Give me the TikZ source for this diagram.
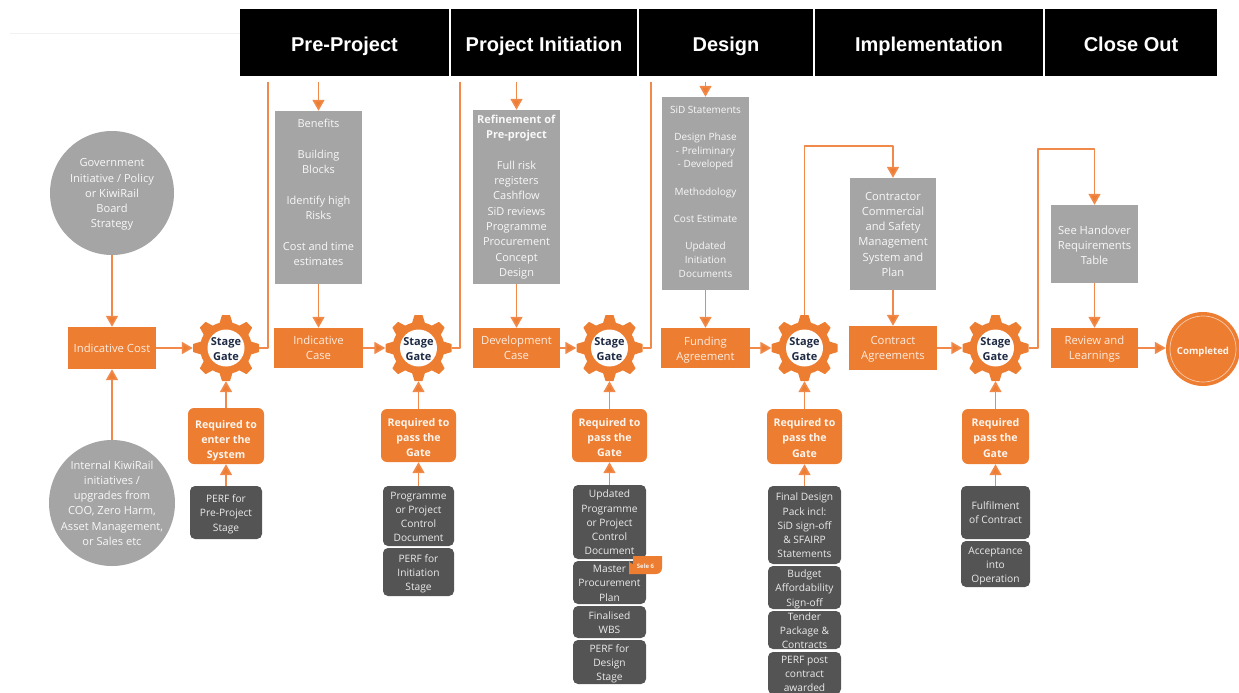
\documentclass[tikz,border=0pt]{standalone}
\usepackage{fontspec}
\setmainfont{Open Sans}
\newfontfamily\hdfont{Liberation Sans}
\usetikzlibrary{arrows.meta,shapes.geometric,calc}
\definecolor{kro}{HTML}{ED7D31}
\definecolor{krl}{HTML}{F0894A}
\definecolor{krg}{HTML}{A5A5A5}
\definecolor{krd}{HTML}{545454}
\definecolor{krn}{HTML}{1F2A44}
% optional argument: how far the text block sits above the node centre
\newcommand\lns[2][0]{\raisebox{\dimexpr#1pt-4pt\relax}[0pt][0pt]{\begin{tabular}{@{}c@{}}#2\end{tabular}}}
% style, name, x1, y1, x2, y2, text
\newcommand\bx[7]{%
  \pgfmathsetmacro\cxx{(#3+#5)/2}\pgfmathsetmacro\cyy{(#4+#6)/2}%
  \pgfmathsetmacro\ww{#5-#3}\pgfmathsetmacro\hh{#6-#4}%
  \node[#1,minimum width=\ww pt,minimum height=\hh pt] (#2) at (\cxx,\cyy) {#7};}
\newcommand\gear[3]{%
  \foreach \a in {0,45,...,315}
    \fill[kro,draw=kro,line width=1.4pt,line join=round,rotate around={\a:(#2,#3)}]
      (#2-6,#3-24)--(#2-3.5,#3-32.3)--(#2+3.5,#3-32.3)--(#2+6,#3-24)--cycle;
  \fill[kro] (#2,#3) circle[radius=26];
  \fill[white] (#2,#3) circle[radius=18.5];
  \node[gatenode] (#1) at (#2,#3) {\lns[-0.5]{Stage\\Gate}};}
\tikzset{
  hdr/.style={fill=black,text=white,inner sep=0pt,font=\hdfont\bfseries\fontsize{20}{22}\selectfont},
  greybox/.style={fill=krg,text=white!92!krg,inner sep=0pt,font=\fontsize{11}{15.3}\selectfont},
  orbox/.style={fill=kro,text=white!85!kro,inner sep=0pt,font=\fontsize{11.3}{15.3}\selectfont},
  reqbox/.style={fill=kro,text=white!92!kro,rounded corners=6pt,inner sep=0pt,font=\bfseries\fontsize{10.6}{15.3}\selectfont},
  darkbox/.style={fill=krd,text=white!88!krd,rounded corners=5pt,inner sep=0pt,font=\fontsize{10.2}{14.2}\selectfont},
  greycirc/.style={circle,fill=krg,text=white!92!krg,inner sep=0pt,font=\fontsize{11.1}{15.3}\selectfont},
  gatenode/.style={circle,minimum size=66pt,inner sep=0pt,text=krn,font=\bfseries\fontsize{11}{15}\selectfont},
  flow/.style={draw=krl,line width=1.7pt,line join=round,-{Triangle[length=11pt,width=12pt,fill=kro]}},
  plain/.style={draw=krl,line width=1.7pt,line join=round},
}
\begin{document}
\begin{tikzpicture}[x=1pt,y=-1pt]
\useasboundingbox (0,0) rectangle (1239,693);
\draw[black!5,line width=0.8pt] (10,33) -- (240,33);
% headers
\bx{hdr}{h1}{240}{9}{449}{76}{\lns[-5.5]{Pre-Project}}
\bx{hdr}{h2}{451}{9}{637}{76}{\lns[-5.5]{Project Initiation}}
\bx{hdr}{h3}{639}{9}{813}{76}{\lns[-5.5]{Design}}
\bx{hdr}{h4}{815}{9}{1043}{76}{\lns[-5.5]{Implementation}}
\bx{hdr}{h5}{1045}{9}{1217}{76}{\lns[-5.5]{Close Out}}
% free ends
\coordinate (u1) at (268,82);
\coordinate (u2) at (460,82);
\coordinate (u3) at (651,82);
\coordinate (d1) at (318.5,82);
\coordinate (d2) at (516.5,82);
\coordinate (d3) at (705.5,82);
\coordinate (t4) at (804.5,146);
\coordinate (t5) at (1038,149);
% source circles
\node[greycirc,minimum size=124pt] (gov) at (112,193) {\lns{Government\\Initiative / Policy\\or KiwiRail\\Board\\Strategy}};
\node[greycirc,minimum size=126pt] (int) at (112,503) {\lns{Internal KiwiRail\\initiatives /\\upgrades from\\COO, Zero Harm,\\Asset Management,\\or Sales etc}};
% grey boxes
\bx{greybox}{benefits}{275}{111}{362}{284}{\lns[5]{Benefits\\[15.3pt]Building\\Blocks\\[15.3pt]Identify high\\Risks\\[15.3pt]Cost and time\\estimates}}
\bx{greybox}{refine}{473}{110}{560}{284}{\lns[1.5]{\textbf{Refinement of}\\\textbf{Pre-project}\\[15.3pt]Full risk\\registers\\Cashflow\\SiD reviews\\Programme\\Procurement\\Concept\\Design}}
\bx{greybox,font=\fontsize{10}{13.8}\selectfont}{sid}{662}{97}{749}{290}{\lns[2.5]{SiD Statements\\[13.5pt]Design Phase\\- Preliminary\\- Developed\\[13.5pt]Methodology\\[13.5pt]Cost Estimate\\[13.5pt]Updated\\Initiation\\Documents}}
\bx{greybox,font=\fontsize{11.2}{15.3}\selectfont}{contractor}{850}{178}{936}{290}{\lns{Contractor\\Commercial\\and Safety\\Management\\System and\\Plan}}
\bx{greybox,font=\fontsize{11.2}{15.3}\selectfont}{handover}{1051}{205}{1138}{283}{\lns[-1]{See Handover\\Requirements\\Table}}
% orange boxes
\bx{orbox}{cost}{68}{327}{156}{369}{\lns{Indicative Cost}}
\bx{orbox}{case}{274}{328}{363}{368}{\lns{Indicative\\Case}}
\bx{orbox}{dev}{473}{328}{560}{368}{\lns{Development\\Case}}
\bx{orbox}{fund}{661}{328}{750}{368}{\lns[-1]{Funding\\Agreement}}
\bx{orbox}{contract}{849}{326}{937}{370}{\lns{Contract\\Agreements}}
\bx{orbox}{review}{1051}{328}{1138}{368}{\lns{Review and\\Learnings}}
% completed
\node[circle,fill=kro,minimum size=74pt,inner sep=0pt,text=white!92!kro,font=\bfseries\fontsize{9.6}{12}\selectfont] (done) at (1203,349) {\lns[-1.5]{Completed}};
\draw[white!60!kro,line width=0.7pt] (done.center) circle[radius=33];
% gates
\gear{g1}{226}{348}
\gear{g2}{418.5}{348}
\gear{g3}{609.5}{348}
\gear{g4}{804.5}{348}
\gear{g5}{995.5}{348}
% required
\bx{reqbox}{r1}{188}{408}{264}{464}{\lns[-3]{Required to\\enter the\\System}}
\bx{reqbox}{r2}{381}{409}{456}{462}{\lns[-1.5]{Required to\\pass the\\Gate}}
\bx{reqbox}{r3}{572}{409}{647}{462}{\lns[-1.5]{Required to\\pass the\\Gate}}
\bx{reqbox}{r4}{767}{409}{842}{464}{\lns[-1]{Required to\\pass the\\Gate}}
\bx{reqbox}{r5}{962}{409}{1029}{464}{\lns[-1]{Required\\pass the\\Gate}}
% dark boxes
\bx{darkbox}{p1}{190}{486}{262}{539}{\lns{PERF for\\Pre-Project\\Stage}}
\bx{darkbox}{p2a}{383}{486}{454}{546}{\lns{Programme\\or Project\\Control\\Document}}
\bx{darkbox}{p2b}{383}{548}{454}{596}{\lns{PERF for\\Initiation\\Stage}}
\bx{darkbox}{p3a}{573}{485}{646}{559}{\lns{Updated\\Programme\\or Project\\Control\\Document}}
\bx{darkbox}{p3b}{573}{561}{646}{604}{\lns{Master\\Procurement\\Plan}}
\bx{darkbox}{p3c}{573}{606}{646}{638}{\lns{Finalised\\WBS}}
\bx{darkbox}{p3d}{573}{640}{646}{684}{\lns{PERF for\\Design\\Stage}}
\bx{darkbox}{p4a}{768}{486}{841}{564}{\lns{Final Design\\Pack incl:\\SiD sign-off\\\& SFAIRP\\Statements}}
\bx{darkbox}{p4b}{768}{566}{841}{609}{\lns{Budget\\Affordability\\Sign-off}}
\bx{darkbox}{p4c}{768}{611}{841}{649}{\lns{Tender\\Package \&\\Contracts}}
\bx{darkbox}{p4d}{768}{652}{841}{694}{\lns{PERF post\\contract\\awarded}}
\bx{darkbox}{p5a}{961}{486}{1030}{539}{\lns{Fulfilment\\of Contract}}
\bx{darkbox}{p5b}{961}{541}{1030}{587}{\lns{Acceptance\\into\\Operation}}
% badge
\fill[kro] (633,556) -- (662,556) -- (662,568) arc[start angle=0,end angle=90,radius=6] -- (629,574) -- (629,560) arc[start angle=180,end angle=90,radius=4] -- cycle;
\node[text=white!90!kro,inner sep=0pt,minimum width=33pt,minimum height=18pt,font=\bfseries\fontsize{6}{7}\selectfont] (badge) at (645.5,565) {\lns{Sele 6}};
% connectors
\draw[flow] (gov) -- (cost);
\draw[flow] (int) -- (cost);
\draw[flow] (cost) -- (g1);
\draw[flow] (case) -- (g2);
\draw[flow] (dev) -- (g3);
\draw[flow] (fund) -- (g4);
\draw[flow] (contract) -- (g5);
\draw[flow] (review.east) -- (done.west |- review.east);
\draw[plain] (g1.east) -| (u1);
\draw[plain] (g2.east) -| (u2);
\draw[plain] (g3.east) -| (u3);
\draw[flow] (d1) -- (benefits);
\draw[flow] (d2) -- (refine);
\draw[flow] (d3) -- (sid);
\draw[flow] (benefits) -- (case);
\draw[flow] (refine) -- (dev);
\draw[flow] (sid) -- (fund);
\draw[flow] (contractor) -- (contract);
\draw[flow] (handover) -- (review);
\draw[flow] (g4.north) -- (t4) -| (contractor.north);
\draw[flow] (g5.east) -| (t5) -| (handover.north);
\draw[flow] (r1) -- (g1);
\draw[flow] (r2) -- (g2);
\draw[flow] (r3) -- (g3);
\draw[flow] (r4) -- (g4);
\draw[flow] (r5) -- (g5);
\draw[flow] (p1) -- (r1);
\draw[flow] (p2a) -- (r2);
\draw[flow] (p3a) -- (r3);
\draw[flow] (p4a) -- (r4);
\draw[flow] (p5a) -- (r5);
\end{tikzpicture}
\end{document}
